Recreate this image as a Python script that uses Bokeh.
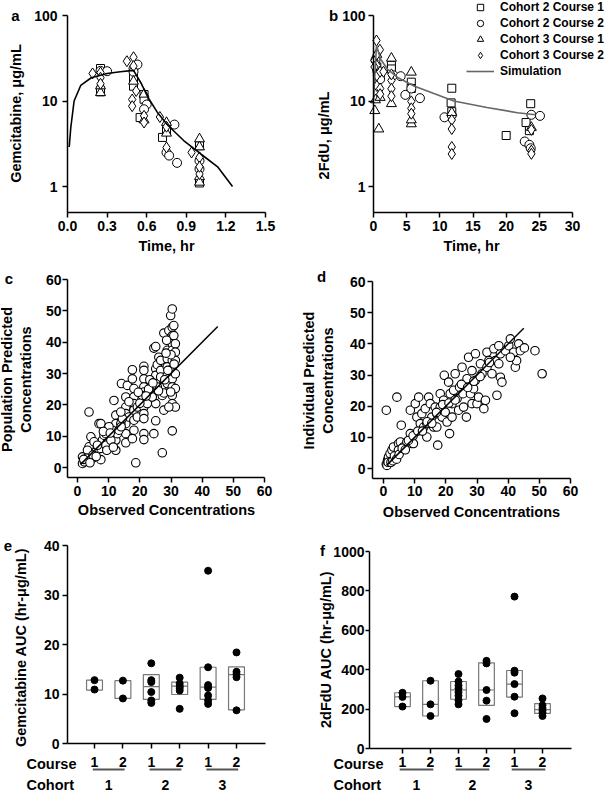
import numpy as np
from bokeh.plotting import figure
from bokeh.layouts import column, row
from bokeh.models import (FixedTicker, Label, Legend, LegendItem, Range1d, PrintfTickFormatter)
from bokeh.core.properties import value
from bokeh.embed import file_html
from bokeh.resources import INLINE

FONT = "Liberation Sans"

# ---------------- data ----------------
series_names = ["Cohort 2 Course 1", "Cohort 2 Course 2", "Cohort 3 Course 1", "Cohort 3 Course 2"]

# Panel a: gemcitabine (ug/mL) vs time (hr)
a_c2c1_t = [0.25, 0.25, 0.25, 0.5, 0.5, 0.5, 0.58, 0.58, 0.55, 0.72, 0.75, 1.0, 1.0]
a_c2c1_v = [24, 13.3, 12.8, 20.4, 18.7, 14.9, 11.9, 10.5, 6.4, 3.75, 4.5, 3.0, 1.1]
a_c2c2_t = [0.25, 0.30, 0.5, 0.53, 0.5, 0.6, 0.58, 0.75, 0.81, 0.77, 0.83, 1.0, 1.0]
a_c2c2_v = [22.5, 22.3, 24, 26.7, 22, 9.1, 8, 2.5, 5.3, 2.3, 1.89, 2.0, 1.6]
a_c3c1_t = [0.25, 0.25, 0.5, 0.58, 0.58, 0.75, 0.75, 1.0, 1.0, 1.0, 1.0]
a_c3c1_v = [12.5, 15, 17, 12, 6, 5.6, 4.2, 3.6, 2.9, 1.3, 1.12]
a_c3c2_t = [0.19, 0.25, 0.25, 0.25, 0.45, 0.5, 0.5, 0.52, 0.49, 0.49, 0.58, 0.58, 0.7, 0.75, 0.75, 0.94, 1.0, 1.0, 1.0]
a_c3c2_v = [21, 21.5, 18.7, 15.9, 29.2, 32.5, 25.6, 13.1, 10.4, 8.7, 6.7, 5.6, 6.5, 5.0, 2.86, 2.5, 2.19, 1.4, 1.7]
a_sim_t = [0.013, 0.025, 0.05, 0.1, 0.18, 0.3, 0.4, 0.5, 0.56, 0.61, 0.68, 0.76, 0.88, 1.01, 1.14, 1.25]
a_sim_v = [2.9, 4.9, 10, 15.2, 18.7, 21, 22, 22.8, 15.9, 11, 7.4, 5.2, 3.45, 2.4, 1.68, 1.0]
a_xticks = [0.0, 0.3, 0.6, 0.9, 1.2, 1.5]
log_yticks = [1, 10, 100]

# Panel b: 2FdU (ug/mL) vs time (hr)
b_c2c1_t = [0.5, 1, 2.7, 2.7, 5.7, 5.7, 11.8, 11.7, 11.8, 20, 23.7, 23, 23.5]
b_c2c1_v = [25, 20, 26, 23.7, 16.6, 14, 14.1, 9.5, 7.5, 3.95, 9.3, 5.6, 4.5]
b_c2c2_t = [0.3, 0.6, 1.0, 3.0, 4.1, 4.8, 5.7, 7.0, 10.7, 11.8, 22.8, 23.5, 23.8, 25.1, 23.7]
b_c2c2_v = [30, 22, 18, 20, 19.5, 11.8, 14, 10.8, 6.45, 6.8, 3.36, 3.07, 6.9, 6.7, 2.8]
b_c3c1_t = [0.2, 0.3, 0.5, 0.8, 1.0, 2.7, 2.7, 5.7, 5.7, 5.7, 11.8, 23.8]
b_c3c1_v = [7.7, 10.3, 35, 4.7, 11, 31.6, 9.3, 21.7, 5.4, 6.0, 7.3, 4.9]
b_c3c2_t = [0.45, 0.96, 0.15, 0.5, 0.5, 1.0, 0.5, 1.0, 1.0, 1.5, 2.7, 2.7, 2.7, 2.7, 5.7, 5.7, 5.7,
            11.8, 11.8, 11.8, 11.8, 23.8, 23.8, 23.8, 0.15, 0.5]
b_c3c2_v = [51, 39.8, 29.8, 19.9, 15, 22, 26, 14, 12, 22, 17.4, 13.9, 11.4, 20.5, 9.9, 8.2, 7.1,
            6.0, 4.7, 2.9, 2.4, 4.6, 2.63, 2.41, 25, 35]
b_sim_t = [0.0, 0.45, 1.06, 2.06, 3.57, 6.1, 9.1, 12.1, 17.1, 21.7, 24.4]
b_sim_v = [10.1, 44.6, 31, 23.8, 19, 15, 12.2, 10.0, 8.4, 7.3, 6.9]
b_xticks = [0, 5, 10, 15, 20, 25, 30]

# Panel c: population predicted vs observed
c_obs = [1.6, 1.6, 2.7, 4.3, 3.7, 4.3, 3.7, 4.8, 5.9, 7.5, 7.5, 6.9, 8.0, 9.1, 9.6, 9.1, 9.4, 8.5,
         11.7, 12.3, 12.3, 12.3, 12.3, 11.2, 12.8,
         14.1, 16, 15.5, 15.5, 15.5, 15.5, 15.5, 15.5, 16.5,
         17.6, 17.6, 18.1, 18.1, 18.1, 18.1, 18.1, 18.1, 17.6, 18.7, 19.2, 19.2,
         21.3, 21.3, 21.3, 21.3, 21.3, 21.3, 21.3, 21.3, 21.3, 21.3, 21.3, 20.8, 22.4,
         24.5, 25.1, 25.1, 25.1, 25.1, 25.1, 25.1, 24.5, 25.1, 25.6, 26.1, 26.7, 26.7, 26.7, 27.2, 27.2, 27.2, 27.7, 24, 25.6,
         27.7, 28.8, 28.8, 28.8, 28.8, 28.8, 27.7, 29.3, 29.9, 30.4, 30.4, 30.4, 30.4, 30.4, 30.4, 30.4, 30.4, 30.4,
         30.4, 30.4, 30.4, 30.9, 30.9, 31.4, 31.4, 31.4, 31.4, 31.4, 31.4, 29.9, 29.3, 28.6,
         3.2, 5.3, 6.4, 7.5, 9.1, 10.1, 10.7, 13.3, 13.9, 14.4, 13.9,
         2.2, 3.0, 5.0, 6.0, 2.0, 4.0, 8.3, 10.5, 11.5, 14, 16.5, 19.5, 20, 22.8, 23.2, 24.2, 22, 26, 28, 29, 31, 30, 28.4]
c_pred = [1.3, 3.4, 2.3, 4.5, 6.6, 9.8, 17.7, 2.9, 5.0, 6.1, 2.5, 14.0, 8.7, 12.4, 9.2, 7.1, 5.5, 10.3,
          21.4, 16.7, 14, 8.7, 5.5, 11.9, 10.8,
          26.8, 26.2, 22.5, 19.3, 17.2, 14, 10.8, 7.9, 16.1,
          31.2, 28.3, 25.2, 22.5, 20.4, 18.3, 15.1, 11.9, 9.2, 1.5, 19.3, 16.1,
          32.3, 31, 28.3, 25.7, 24.1, 21.4, 19.3, 17.2, 15.6, 10.8, 8.9, 23, 20.4,
          38.1, 38.6, 31.5, 29.4, 26.8, 23, 20.4, 10.8, 14.9, 32.8, 35.2, 34.2, 31, 28.9, 25.9, 23, 4.7, 18.3, 22.5, 25.7,
          42.9, 37.4, 34.7, 32.1, 29.4, 26.8, 23.8, 43.7, 48.5, 50.6, 44.8, 42.1, 39.5, 37.4, 34.2, 31.5, 28.3, 25.7,
          23, 20.4, 11.7, 45.3, 42.1, 39.5, 36.8, 34.2, 29.9, 25.2, 19.3, 24.1, 19.3, 40.6,
          5.5, 8.2, 7.1, 14, 10.8, 13, 8.7, 11.9, 14, 15.6, 17.7,
          1.8, 3.0, 4.0, 3.5, 2.6, 1.5, 11.5, 11, 6.5, 13, 21, 24, 20.5, 25, 28, 27, 22.8, 24.5, 28, 31, 33, 36, 36.5]

# Panel d: individual predicted vs observed
d_obs = [0.9, 4.3, 17.4, 21.2, 50.9, 48.6, 36.4,
         0.9, 1.3, 1.6, 2.1, 2.7, 3.2, 3.8, 2.1, 4.8, 5.4, 5.7, 4.8, 6.4, 7.5, 8.6, 9.1, 8.6, 9.6,
         10.2, 11.3, 10.7, 11.8, 12.3, 12.9, 13.4, 13.9, 13.9, 14.5, 15, 15.5, 16.1, 16.6, 17.1, 17.1,
         18.2, 18.2, 18.8, 19.5, 19.3, 19.8, 20.4,
         20.9, 21.4, 22, 22, 22.5, 23, 23.6, 24.1, 24.4, 25.2, 25.5, 25.7, 26.6, 26.8, 27.3, 27.9, 28.4,
         28.4, 28.9, 29.5, 29.5, 30, 30.5, 31.1,
         31.6, 32.2, 32.7, 33.2, 33.2, 33.8, 34.8, 35.4, 35.9, 37, 37.5, 37.5, 38.0, 39.1, 40.2, 40.7,
         41.8, 42.3, 42.7, 43.4, 43.9, 45.2, 40.7, 37,
         1.1, 1.5, 2.4, 3.0, 3.5, 4.2, 5.0, 6.0, 7.0, 8.0, 9.5, 11, 12.5, 14, 15.5, 17, 19, 21, 23, 25, 27, 29, 31, 34]
d_pred = [18.7, 22.9, 7.5, 11.2, 30.4, 37.8, 23.5,
          1.4, 2.7, 3.7, 4.8, 5.9, 6.9, 3.7, 2.1, 8, 8.5, 13.9, 5.9, 6.9, 8.5, 11.2, 8, 18.7, 8,
          20.8, 22.9, 16.5, 14.4, 17.6, 13.3, 19.2, 14.4, 10.1, 22.9, 20.8, 16.5, 13.3, 19.7, 17.6, 13.3,
          24, 19.7, 16.5, 29.9, 21.9, 18.1, 14.9,
          27.7, 24, 20.8, 16.5, 25.1, 30.4, 22.4, 18.7, 26.1, 32.5, 24, 19.7, 16.5, 28.8, 35.7, 24, 31.4,
          20.8, 25.6, 36.8, 28.3, 20.8, 22.9, 33.6,
          30.4, 19.2, 21.9, 37.3, 32.5, 34.6, 30.4, 38.4, 34.6, 33.6, 36.8, 29.3, 27.7, 37.8, 39.4, 41.6,
          37.3, 32.5, 34.6, 40, 37.8, 38.7, 35.7, 39.4,
          1.0, 2.0, 2.0, 2.5, 4.0, 3.0, 4.5, 6.5, 6.0, 9.0, 10.5, 12, 12.0, 15, 14.5, 18, 20.5, 21, 22, 27, 26, 28, 29.5, 34]
xy_ticks = [0, 10, 20, 30, 40, 50, 60]
identity_x = [1.0, 45.0]
identity_y = [1.0, 45.0]

# Panels e/f: AUC by cohort and course
categories = [1, 2, 3, 4, 5, 6]
course_labels = ["1", "2", "1", "2", "1", "2"]
cohort_labels = ["1", "2", "3"]

e_points = [[12.8, 10.9], [12.7, 9.1], [16.2, 12.8, 12.4, 10.4, 8.7, 8.2],
            [13.3, 12.1, 11.6, 11.2, 10.7, 7.0], [34.9, 15.4, 11.8, 11.2, 9.7, 8.7, 8.0],
            [18.4, 14.5, 14.0, 13.4, 6.7]]
e_box_low = [10.8, 9.1, 8.9, 9.9, 8.9, 6.8]
e_box_high = [12.8, 12.7, 13.9, 12.4, 15.4, 15.5]
e_median = [float("nan"), float("nan"), 11.5, 11.6, 11.4, 13.9]
e_yticks = [0, 10, 20, 30, 40]

f_points = [[283, 262, 213], [344, 224, 165], [378, 340, 320, 305, 285, 268, 245, 224],
            [445, 432, 297, 243, 150], [771, 395, 385, 327, 263, 179],
            [254, 219, 205, 192, 180, 165]]
f_box_low = [213, 165, 250, 219, 261, 178]
f_box_high = [283, 344, 340, 435, 396, 228]
f_median = [262, 224, 298, 297, 327, 197]
f_yticks = [0, 200, 400, 600, 800, 1000]


# ---------------- helpers ----------------
class Geo:
    """Maps pixel positions inside a figure (from its top-left) to data values."""

    def __init__(self, w, h, xa, ya, ylog=False):
        (p1, v1), (p2, v2) = xa
        self.xs = (v2 - v1) / (p2 - p1)
        self.x0 = v1 - p1 * self.xs
        (q1, w1), (q2, w2) = ya
        if ylog:
            w1, w2 = np.log10(w1), np.log10(w2)
        self.ys = (w2 - w1) / (q2 - q1)
        self.y0 = w1 - q1 * self.ys
        self.ylog, self.w, self.h = ylog, w, h

    def x(self, px):
        return self.x0 + px * self.xs

    def y(self, py):
        v = self.y0 + py * self.ys
        return 10 ** v if self.ylog else v


def base(g, xfix, yfix, xbounds, ybounds):
    p = figure(width=g.w, height=g.h, x_range=Range1d(g.x(0), g.x(g.w)),
               y_range=Range1d(g.y(g.h), g.y(0)), y_axis_type="log" if g.ylog else "linear",
               output_backend="svg", toolbar_location=None, min_border=0)
    p.min_border_left = p.min_border_right = p.min_border_top = p.min_border_bottom = 0
    p.grid.visible = False
    p.outline_line_color = None
    for ax in p.axis:
        ax.axis_line_width = 1.5
        ax.axis_line_color = "black"
        ax.major_tick_line_width = 1.5
        ax.major_tick_line_color = "black"
        ax.major_tick_in = 0
        ax.major_tick_out = 5
        ax.minor_tick_in = 0
        ax.minor_tick_out = 0
        ax.major_label_text_font = FONT
        ax.major_label_text_font_style = "bold"
        ax.major_label_text_font_size = "14px"
        ax.major_label_text_color = "black"
    p.xaxis.fixed_location = xfix
    p.yaxis.fixed_location = yfix
    p.xaxis.bounds = xbounds
    p.yaxis.bounds = ybounds
    return p


def lab(p, g, px, py, text, size="14.5px", align="center", angle=0.0):
    p.add_layout(Label(x=g.x(px), y=g.y(py), text=text, text_font=FONT, text_font_style="bold",
                       text_font_size=size, text_align=align, text_baseline="middle",
                       text_color="black", angle=angle, text_line_height=1.2))


markers = ["square", "circle", "triangle", "diamond"]
msizes = [8, 9, 10, 11]


def pk_points(p, series):
    rs = []
    for (t, v), m, s in zip(series, markers, msizes):
        rs.append(p.scatter(t, v, marker=m, size=s, fill_color="white",
                            line_color="black", line_width=1))
    return rs


# ---------------- panel a ----------------
ga = Geo(300, 260, ((67, 0.0), (265, 1.5)), ((15, 100), (186, 1)), ylog=True)
pa = base(ga, 0.5, 0.0, (0.0, 1.5), (0.5, 100))
pa.xaxis.ticker = FixedTicker(ticks=a_xticks)
pa.xaxis.formatter = PrintfTickFormatter(format="%.1f")
pa.yaxis.ticker = FixedTicker(ticks=log_yticks)
pa.yaxis.formatter = PrintfTickFormatter(format="%d")
pa.xaxis.major_label_standoff = 4
pa.yaxis.major_label_standoff = 5
pk_points(pa, [(a_c2c1_t, a_c2c1_v), (a_c2c2_t, a_c2c2_v), (a_c3c1_t, a_c3c1_v), (a_c3c2_t, a_c3c2_v)])
pa.line(a_sim_t, a_sim_v, line_color="black", line_width=1.6)
lab(pa, ga, 15, 15, "a", size="15px")
lab(pa, ga, 166, 245, "Time, hr")
lab(pa, ga, 15, 113, "Gemcitabine, μg/mL", angle=np.pi / 2)

# ---------------- panel b ----------------
gb = Geo(305, 260, ((73, 0.0), (272, 30.0)), ((15, 100), (186, 1)), ylog=True)
pb = base(gb, 0.5, 0.0, (0.0, 30.0), (0.5, 100))
pb.xaxis.ticker = FixedTicker(ticks=b_xticks)
pb.yaxis.ticker = FixedTicker(ticks=log_yticks)
pb.yaxis.formatter = PrintfTickFormatter(format="%d")
pb.xaxis.major_label_standoff = 4
pb.yaxis.major_label_standoff = 3
rs_b = pk_points(pb, [(b_c2c1_t, b_c2c1_v), (b_c2c2_t, b_c2c2_v), (b_c3c1_t, b_c3c1_v), (b_c3c2_t, b_c3c2_v)])
sim_b = pb.line(b_sim_t, b_sim_v, line_color="#666666", line_width=1.6)
lab(pb, gb, 33, 15, "b", size="15px")
lab(pb, gb, 171, 245, "Time, hr")
lab(pb, gb, 23, 135, "2FdU, μg/mL", angle=np.pi / 2)
items = [LegendItem(label=n, renderers=[r]) for n, r in zip(series_names, rs_b)]
items.append(LegendItem(label="Simulation", renderers=[sim_b]))
leg = Legend(items=items, location=(166, 181), orientation="vertical",
             background_fill_alpha=0, border_line_color=None, padding=0, margin=0,
             spacing=0, glyph_height=16, glyph_width=28, label_height=16,
             label_standoff=6, label_text_font=FONT, label_text_font_style="bold",
             label_text_font_size="12px", label_text_color="black")
pb.add_layout(leg)

# ---------------- panel c ----------------
gc = Geo(300, 260, ((77, 0.0), (264, 60.0)), ((19, 60.0), (207, 0.0)))
pc = base(gc, gc.y(217), gc.x(67), (gc.x(67), 60), (gc.y(217), 60))
for ax in (pc.xaxis, pc.yaxis):
    ax.ticker = FixedTicker(ticks=xy_ticks)
pc.xaxis.major_label_standoff = 3
pc.yaxis.major_label_standoff = 1
pc.scatter(c_obs, c_pred, marker="circle", size=8.5, fill_color="white", line_color="black", line_width=1.1)
pc.line(identity_x, identity_y, line_color="black", line_width=1.5)
lab(pc, gc, 8.5, 18, "c", size="15px")
lab(pc, gc, 166, 249, "Observed Concentrations")
lab(pc, gc, 16, 119, "Population Predicted\nConcentrations", angle=np.pi / 2)

# ---------------- panel d ----------------
gd = Geo(305, 260, ((83, 0.0), (270, 60.0)), ((21, 60.0), (208, 0.0)))
pd_ = base(gd, gd.y(218), gd.x(72), (gd.x(72), 60), (gd.y(218), 60))
for ax in (pd_.xaxis, pd_.yaxis):
    ax.ticker = FixedTicker(ticks=xy_ticks)
pd_.xaxis.major_label_standoff = 2
pd_.yaxis.major_label_standoff = 2
pd_.scatter(d_obs, d_pred, marker="circle", size=8.5, fill_color="white", line_color="black", line_width=1.1)
pd_.line(identity_x, identity_y, line_color="black", line_width=1.5)
lab(pd_, gd, 21, 16, "d", size="15px")
lab(pd_, gd, 171, 251, "Observed Concentrations")
lab(pd_, gd, 18, 120, "Individual Predicted\nConcentrations", angle=np.pi / 2)


# ---------------- panels e / f ----------------
def auc_panel(g, ax_px_left, ax_px_right, yticks, points, lo, hi, med, ytitle, ytitle_xy,
              letter, letter_xy, word_x, course_standoff, ul_pad):
    p = base(g, 0.0, g.x(ax_px_left), (g.x(ax_px_left), g.x(ax_px_right)), (yticks[0], yticks[-1]))
    p.xaxis.ticker = FixedTicker(ticks=categories)
    p.xaxis.major_label_overrides = dict(zip(categories, course_labels))
    p.xaxis.major_label_standoff = course_standoff
    p.yaxis.ticker = FixedTicker(ticks=yticks)
    p.yaxis.major_label_standoff = 3
    half = 0.28
    p.quad(left=[c - half for c in categories], right=[c + half for c in categories],
           bottom=lo, top=hi, fill_color=None, line_color="#777777", line_width=1.2)
    p.segment(x0=[c - half for c in categories], x1=[c + half for c in categories],
              y0=med, y1=med, line_color="#777777", line_width=1.2)
    xs, ys = [], []
    for c, vals in zip(categories, points):
        xs += [c] * len(vals)
        ys += vals
    p.scatter(xs, ys, marker="circle", size=7, fill_color="black", line_color="black")
    odd = categories[0::2]
    even = categories[1::2]
    y_line = g.y(249)
    p.segment(x0=[c - ul_pad for c in odd], x1=[c + ul_pad for c in even], y0=[y_line] * 3,
              y1=[y_line] * 3, line_color="#555555", line_width=2)
    mids = [(a + b) / 2 for a, b in zip(odd, even)]
    p.text(x=mids, y=[g.y(264)] * 3, text=cohort_labels, text_font=value(FONT),
           text_font_style=value("bold"), text_font_size=value("14px"), text_align="center",
           text_baseline="middle", text_color="black")
    lab(p, g, word_x, 243, "Course", align="left")
    lab(p, g, word_x, 264, "Cohort", align="left")
    lab(p, g, ytitle_xy[0], ytitle_xy[1], ytitle, angle=np.pi / 2)
    lab(p, g, letter_xy[0], letter_xy[1], letter, size="15px")
    return p


ge = Geo(300, 273, ((94, 1.0), (236, 6.0)), ((25, 40.0), (223, 0.0)))
pe = auc_panel(ge, 67, 265, e_yticks, e_points, e_box_low, e_box_high, e_median,
               "Gemcitabine AUC (hr-μg/mL)", (20, 127), "e", (7.5, 25), 26, 8, 0.06)
gf = Geo(305, 273, ((102, 1.0), (242, 6.0)), ((31, 1000.0), (228, 0.0)))
pf = auc_panel(gf, 69, 271, f_yticks, f_points, f_box_low, f_box_high, f_median,
               "2dFdU AUC (hr-μg/mL)", (25, 129), "f", (22, 30), 33, 3, 0.1)
pf.yaxis.major_tick_out = 4
pf.yaxis.major_label_standoff = 1

layout = column(row(pa, pb), row(pc, pd_), row(pe, pf))
open("out.html", "w").write(file_html(layout, INLINE))
